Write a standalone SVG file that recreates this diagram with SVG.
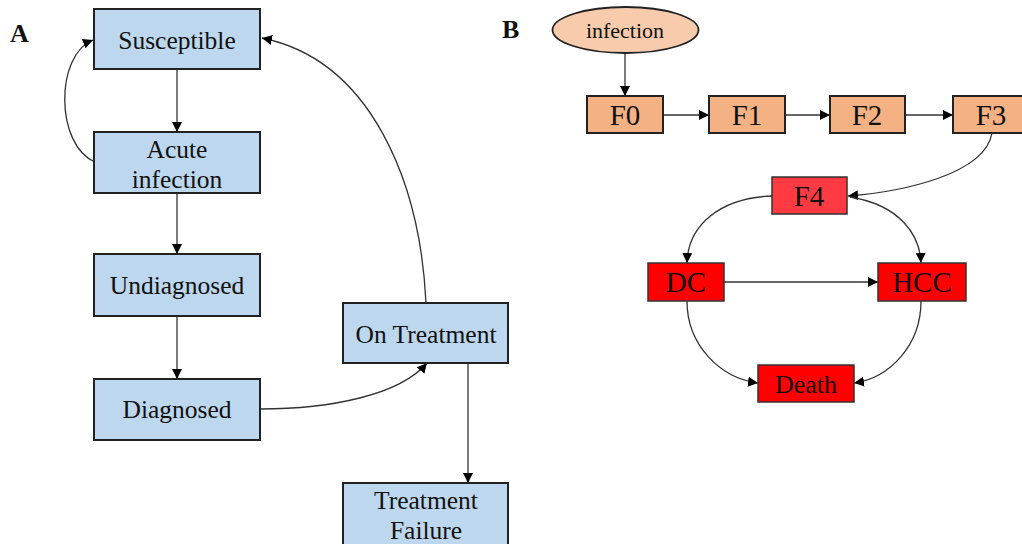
<svg xmlns="http://www.w3.org/2000/svg" width="1022" height="544" viewBox="0 0 1022 544">
<defs>
<marker id="ah" viewBox="0 0 10 10" refX="10" refY="5" markerWidth="10" markerHeight="10" markerUnits="userSpaceOnUse" orient="auto">
<path d="M0,0 L10,5 L0,10 z" fill="#000"/>
</marker>
<style>
.bl{fill:#BDD7EE;stroke:#222;stroke-width:2}
.or{fill:#F4B183;stroke:#222;stroke-width:2}
.f4{fill:#FF3A42;stroke:#333;stroke-width:1.5}
.rd{fill:#FF0000;stroke:#333;stroke-width:1.5}
.t{font-family:"Liberation Serif",serif;font-size:25.5px;fill:#111;text-anchor:middle}
.tb{font-family:"Liberation Serif",serif;font-size:29px;fill:#111;text-anchor:middle}
.lab{font-family:"Liberation Serif",serif;font-size:26px;font-weight:bold;fill:#111}
.c{fill:none;stroke:#333;stroke-width:1.3;marker-end:url(#ah)}
</style>
</defs>
<rect width="1022" height="544" fill="#fff"/>
<text class="lab" x="10" y="42">A</text>
<text class="lab" x="502" y="38">B</text>
<g id="connectors">
<path class="c" d="M177,69 L177,132"/>
<path class="c" d="M177,193 L177,254"/>
<path class="c" d="M177,316 L177,379"/>
<path class="c" d="M95,162 C55,145 55,55 93,40"/>
<path class="c" d="M260,409 C330,409 400,395 427,363"/>
<path class="c" d="M426,303 C420,180 370,60 262,38"/>
<path class="c" d="M468,363 L468,483"/>
<path class="c" d="M625,53 L625,96"/>
<path class="c" d="M663,115 L709,115"/>
<path class="c" d="M785,115 L830,115"/>
<path class="c" d="M905,115 L953,115"/>
<path class="c" d="M992,133 C985,175 900,192 848,196"/>
<path class="c" d="M772,196 C720,198 688,225 687,263"/>
<path class="c" d="M850,197 C900,205 920,235 921,263"/>
<path class="c" d="M724,282 L878,282"/>
<path class="c" d="M687,301 C687,345 720,378 758,383"/>
<path class="c" d="M921,301 C921,345 890,378 854,383"/>
</g>
<g id="susceptible"><rect class="bl" x="94" y="9" width="166" height="60"/><text class="t" x="177" y="49">Susceptible</text></g>
<g id="acute"><rect class="bl" x="94" y="132" width="166" height="61"/><text class="t" x="177" y="158">Acute</text><text class="t" x="177" y="188">infection</text></g>
<g id="undiagnosed"><rect class="bl" x="94" y="254" width="166" height="62"/><text class="t" x="177" y="294">Undiagnosed</text></g>
<g id="diagnosed"><rect class="bl" x="94" y="379" width="166" height="61"/><text class="t" x="177" y="418">Diagnosed</text></g>
<g id="ontreatment"><rect class="bl" x="343" y="303" width="165" height="60"/><text class="t" x="426" y="343">On Treatment</text></g>
<g id="failure"><rect class="bl" x="343" y="483" width="165" height="62"/><text class="t" x="426" y="509">Treatment</text><text class="t" x="426" y="539">Failure</text></g>
<g id="infection"><ellipse cx="625.5" cy="30" rx="73" ry="23" fill="#F8CBAD" stroke="#222" stroke-width="1.8"/><text class="t" x="625" y="38" style="font-size:22px">infection</text></g>
<g id="F0"><rect class="or" x="587" y="96" width="76" height="37"/><text class="tb" x="625" y="125">F0</text></g>
<g id="F1"><rect class="or" x="709" y="96" width="76" height="37"/><text class="tb" x="747" y="125">F1</text></g>
<g id="F2"><rect class="or" x="830" y="96" width="75" height="37"/><text class="tb" x="867" y="125">F2</text></g>
<g id="F3"><rect class="or" x="953" y="96" width="76" height="37"/><text class="tb" x="991" y="125">F3</text></g>
<g id="F4"><rect class="f4" x="772" y="177" width="75" height="37"/><text class="tb" x="809" y="206">F4</text></g>
<g id="DC"><rect class="rd" x="648" y="263" width="76" height="38"/><text class="tb" x="686" y="292">DC</text></g>
<g id="HCC"><rect class="rd" x="878" y="263" width="88" height="38"/><text class="tb" x="922" y="292">HCC</text></g>
<g id="Death"><rect class="rd" x="758" y="365" width="96" height="37"/><text class="t" x="806" y="393" style="font-size:26px">Death</text></g>
</svg>
